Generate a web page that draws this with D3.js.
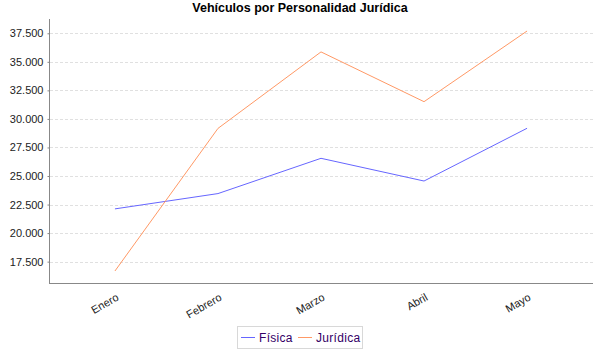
<!DOCTYPE html>
<html>
<head>
<meta charset="utf-8">
<script src="https://cdn.jsdelivr.net/npm/d3@7/dist/d3.min.js"></script>
<style>
  html, body { margin: 0; padding: 0; background: #fff; }
  svg { display: block; }
</style>
</head>
<body>
<svg id="chart" width="600" height="350"></svg>
<script>
// Monthly vehicle counts by legal personality
const months = ["Enero", "Febrero", "Marzo", "Abril", "Mayo"];
const fisica = [22120, 23460, 26550, 24560, 29180];
const juridica = [16680, 29170, 35870, 31510, 37700];
const yTicks = [17500, 20000, 22500, 25000, 27500, 30000, 32500, 35000, 37500];
const seriesNames = ["Física", "Jurídica"];
const seriesColors = ["#6666ff", "#ff9966"];

const svg = d3.select("#chart");
const plot = { left: 49, right: 593, top: 19, bottom: 283 };

// value axis with a 5% margin around the data
const all = fisica.concat(juridica);
const lo = d3.min(all), hi = d3.max(all), pad = (hi - lo) * 0.05;
const y = d3.scaleLinear().domain([lo - pad, hi + pad]).range([plot.bottom, plot.top]);
const x = d3.scalePoint().domain(months).range([plot.left, plot.right]).padding(0.64);

// title
svg.append("text")
  .attr("x", 300).attr("y", 12)
  .attr("text-anchor", "middle")
  .attr("font-family", "Liberation Sans, Arial, sans-serif")
  .attr("font-weight", "bold").attr("font-size", 12.5)
  .attr("fill", "#000")
  .text("Vehículos por Personalidad Jurídica");

// horizontal grid
svg.append("g").selectAll("line").data(yTicks).join("line")
  .attr("x1", plot.left + 1).attr("x2", plot.right)
  .attr("y1", d => Math.round(y(d)) + 0.5).attr("y2", d => Math.round(y(d)) + 0.5)
  .attr("stroke", "#e0e0e0").attr("stroke-width", 1)
  .attr("stroke-dasharray", "3,2");

// y axis
const yAxis = d3.axisLeft(y).tickValues(yTicks).tickSize(2).tickPadding(4)
  .tickFormat(d => d3.format(".3f")(d / 1000));
const gy = svg.append("g").attr("transform", `translate(${plot.left + 0.5},0)`).call(yAxis);
gy.select(".domain").attr("d", `M0,${plot.top}V${plot.bottom}`).attr("stroke", "#888");
gy.selectAll(".tick line").attr("stroke", "#888");
gy.selectAll(".tick text")
  .attr("font-family", "Liberation Sans, Arial, sans-serif")
  .attr("font-size", 11).attr("fill", "#222");

// x axis
const xAxis = d3.axisBottom(x).tickSize(0).tickPadding(0);
const gx = svg.append("g").attr("transform", `translate(0,${plot.bottom + 0.5})`).call(xAxis);
gx.select(".domain").attr("d", `M${plot.left},0H${plot.right}`).attr("stroke", "#888");
gx.selectAll(".tick text")
  .attr("font-family", "Liberation Sans, Arial, sans-serif")
  .attr("font-size", 11).attr("fill", "#222")
  .attr("text-anchor", "end")
  .attr("dy", 0)
  .attr("transform", "translate(4,16) rotate(-30)");

// series lines
const line = d3.line().x((d, i) => x(months[i])).y(d => y(d));
[fisica, juridica].forEach((s, k) => {
  svg.append("path").datum(s)
    .attr("d", line)
    .attr("fill", "none")
    .attr("stroke", seriesColors[k])
    .attr("stroke-width", 1);
});

// legend
const lg = svg.append("g");
lg.append("rect")
  .attr("x", 237.5).attr("y", 326.5).attr("width", 125).attr("height", 22)
  .attr("fill", "#fff").attr("stroke", "#d8d8d8");
const items = [{ x: 241 }, { x: 298 }];
seriesNames.forEach((n, k) => {
  const ix = items[k].x;
  lg.append("line")
    .attr("x1", ix).attr("x2", ix + 14)
    .attr("y1", 337.5).attr("y2", 337.5)
    .attr("stroke", seriesColors[k]).attr("stroke-width", 1);
  lg.append("text")
    .attr("x", ix + 18).attr("y", 342)
    .attr("font-family", "Liberation Sans, Arial, sans-serif")
    .attr("font-size", 12).attr("fill", "#330066")
    .attr("letter-spacing", 0.3)
    .text(n);
});
</script>
</body>
</html>
